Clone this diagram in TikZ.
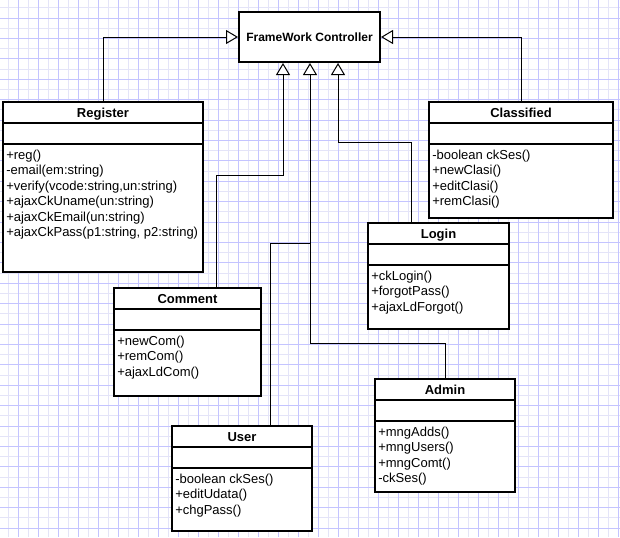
\documentclass[tikz,border=0pt]{standalone}
\usepackage{fontspec}
\setmainfont{Liberation Sans}
\usetikzlibrary{arrows.meta,calc,fit}

\definecolor{gridmajor}{RGB}{196,196,255}
\definecolor{gridminor}{RGB}{228,228,248}

\tikzset{
  px/.style={x=0.75pt,y=-0.75pt},
  classbox/.style={draw=black, line width=1.5pt, fill=white, inner sep=0pt, outer sep=0pt},
  ctrlbox/.style={draw=black, line width=1.5pt, fill=white, inner sep=0pt},
  classtitle/.style={font=\fontsize{9.75}{11.5}\selectfont\bfseries, inner sep=0pt, anchor=base},
  ctrltitle/.style={font=\fontsize{9}{11}\selectfont\bfseries, inner sep=0pt, anchor=base},
  member/.style={font=\fontsize{9.75}{11.5}\selectfont, inner sep=0pt, anchor=base west},
  divider/.style={line width=1.5pt},
  conn/.style={line width=0.75pt},
  inherit/.style={conn, -{Triangle[open, fill=white, length=9pt, width=10.5pt, line width=0.75pt]}},
}

% UML class box: name, x1, y1, x2, y2, title, list of members
\newcommand\umlclass[7]{%
  \node[classbox, fit={(#2,#3) (#4,#5)}] (#1) {};
  \draw[divider] ($(#1.north west)+(0,21)$) -- ($(#1.north east)+(0,21)$);
  \draw[divider] ($(#1.north west)+(0,42)$) -- ($(#1.north east)+(0,42)$);
  \node[classtitle] (#1-title) at ($(#1.north)+(0,15.5)$) {#6};
  \foreach \m [count=\i, evaluate=\i as \yy using 57.5+15.4*(\i-1)] in {#7} {
    \node[member] (#1-m\i) at ($(#1.north west)+(3,\yy)$) {\m};
  }
}

\begin{document}
\begin{tikzpicture}[px]
  \useasboundingbox (0,0) rectangle (620,537);
  \fill[white] (0,0) rectangle (620,537);

  % background grid
  \foreach \gx in {8,28,...,608}
    \draw[gridminor, line width=0.75pt] (\gx,0) -- (\gx,537);
  \foreach \k in {0,...,25}
    \draw[gridminor, line width=0.75pt] (0,{7.8+20.4*\k}) -- (620,{7.8+20.4*\k});
  \foreach \gx in {18,38,...,618}
    \draw[gridmajor, line width=0.75pt] (\gx,0) -- (\gx,537);
  \foreach \k in {0,...,25}
    \draw[gridmajor, line width=0.75pt] (0,{18+20.4*\k}) -- (620,{18+20.4*\k});

  % controller
  \node[ctrlbox, fit={(239,12) (380,62)}] (ctrl) {};
  \node[ctrltitle] (ctrl-title) at ($(ctrl.center)+(0,4.3)$) {FrameWork Controller};

  % classes
  \umlclass{reg}{3}{102}{203}{272}{Register}{+reg(), -email(em:string), {+verify(vcode:string,un:string)}, +ajaxCkUname(un:string), +ajaxCkEmail(un:string), {+ajaxCkPass(p1:string, p2:string)}}
  \umlclass{cls}{429}{102}{613}{218}{Classified}{-boolean ckSes(), +newClasi(), +editClasi(), +remClasi()}
  \umlclass{log}{368}{223}{509}{329}{Login}{+ckLogin(), +forgotPass(), +ajaxLdForgot()}
  \umlclass{com}{114}{288}{261}{396}{Comment}{+newCom(), +remCom(), +ajaxLdCom()}
  \umlclass{adm}{375}{379}{515}{492}{Admin}{+mngAdds(), +mngUsers(), +mngComt(), -ckSes()}
  \umlclass{usr}{172}{426}{312}{531}{User}{-boolean ckSes(), +editUdata(), +chgPass()}

  % generalisation connectors
  \draw[inherit] (reg.north) |- (ctrl.west);
  \draw[inherit] (cls.north) |- (ctrl.east);
  \draw[inherit] (com.north -| 216,0) |- (283,175) -- (ctrl.south -| 283,0);
  \draw[inherit] (log.north -| 411,0) |- (338,142) -- (ctrl.south -| 338,0);
  \draw[inherit] (adm.north) |- (310,343) -- (ctrl.south -| 310,0);
  \draw[conn] (usr.north -| 270,0) |- (310,243);
\end{tikzpicture}
\end{document}
